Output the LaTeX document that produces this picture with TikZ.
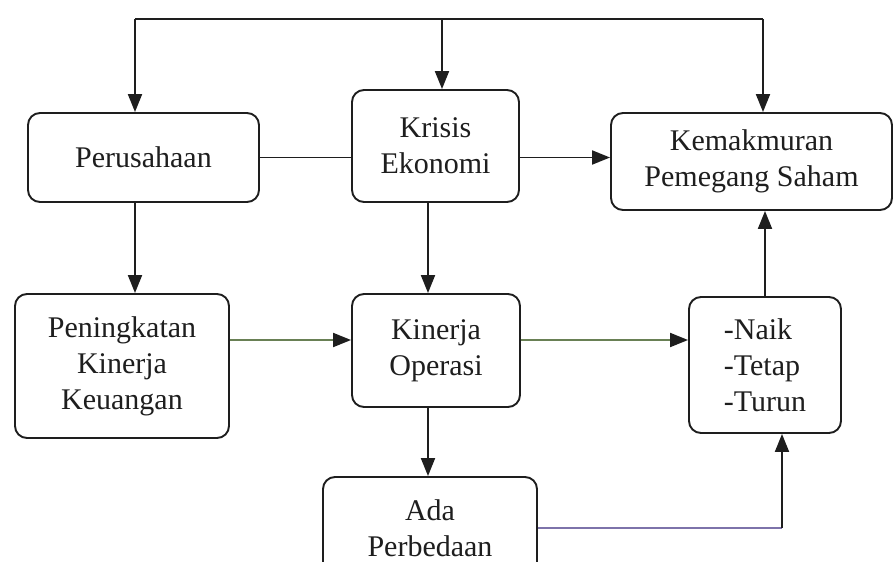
\documentclass[tikz,border=0pt]{standalone}
\usepackage{fontspec}
\setmainfont{Liberation Serif}
\usetikzlibrary{arrows.meta}
\definecolor{ink}{RGB}{30,30,30}
\definecolor{grn}{RGB}{105,128,85}
\definecolor{prp}{RGB}{125,115,170}
\begin{document}
\begin{tikzpicture}[x=1pt,y=-1pt,
  box/.style={draw=ink, line width=1.9pt, rounded corners=12pt, align=center,
    font=\fontsize{30}{36}\selectfont, text=ink, inner sep=0pt},
  ln/.style={draw=ink, line width=1.9pt},
  arr/.style={ln, -{Triangle[length=18pt,width=14pt,color=ink]}}]
\useasboundingbox[fill=white] (0,0) rectangle (894,562);
\begin{scope}
\clip (0,0) rectangle (894,562);
\node[box, minimum width=231pt, minimum height=89pt] (pers) at (143.5,157.5) {Perusahaan};
\node[box, minimum width=167pt, minimum height=112pt] (kri) at (435.5,146) {Krisis\\Ekonomi};
\node[box, minimum width=281pt, minimum height=97pt] (kem) at (751.5,161.5) {Kemakmuran\\Pemegang Saham};
\node[box, minimum width=214pt, minimum height=144pt] (pen) at (122,366) {Peningkatan\\Kinerja\\Keuangan};
\node[box, minimum width=168pt, minimum height=113pt] (kin) at (436,350.5) {Kinerja\\Operasi};
\node[box, minimum width=152pt, minimum height=136pt, align=left] (nai) at (765,365) {-Naik\\-Tetap\\-Turun};
\node[box, minimum width=214pt, minimum height=102pt] (ada) at (430,528) {Ada\\Perbedaan};

\coordinate (tl) at (135,19);
\coordinate (tm) at (442,19);
\coordinate (tr) at (763,19);
\coordinate (dk) at (428,0);
\coordinate (r2) at (0,340);
\coordinate (r3) at (782,528);

\draw[ln] (tl) -- (tr);
\draw[arr] (tl) -- (tl |- pers.north);
\draw[arr] (tm) -- (tm |- kri.north);
\draw[arr] (tr) -- (tr |- kem.north);
\draw[ln] (pers.east) -- (pers.east -| kri.west);
\draw[arr] (kri.east |- pers.east) -- (kem.west |- pers.east);
\draw[arr] (tl |- pers.south) -- (tl |- pen.north);
\draw[arr] (dk |- kri.south) -- (dk |- kin.north);
\draw[arr, draw=grn] (pen.east |- r2) -- (kin.west |- r2);
\draw[arr, draw=grn] (kin.east |- r2) -- (nai.west |- r2);
\draw[arr] (dk |- kin.south) -- (dk |- ada.north);
\draw[arr] (nai.north) -- (nai.north |- kem.south);
\draw[ln, draw=prp] (ada.east |- r3) -- (r3);
\draw[arr] (r3) -- (r3 |- nai.south);
\end{scope}
\end{tikzpicture}
\end{document}
